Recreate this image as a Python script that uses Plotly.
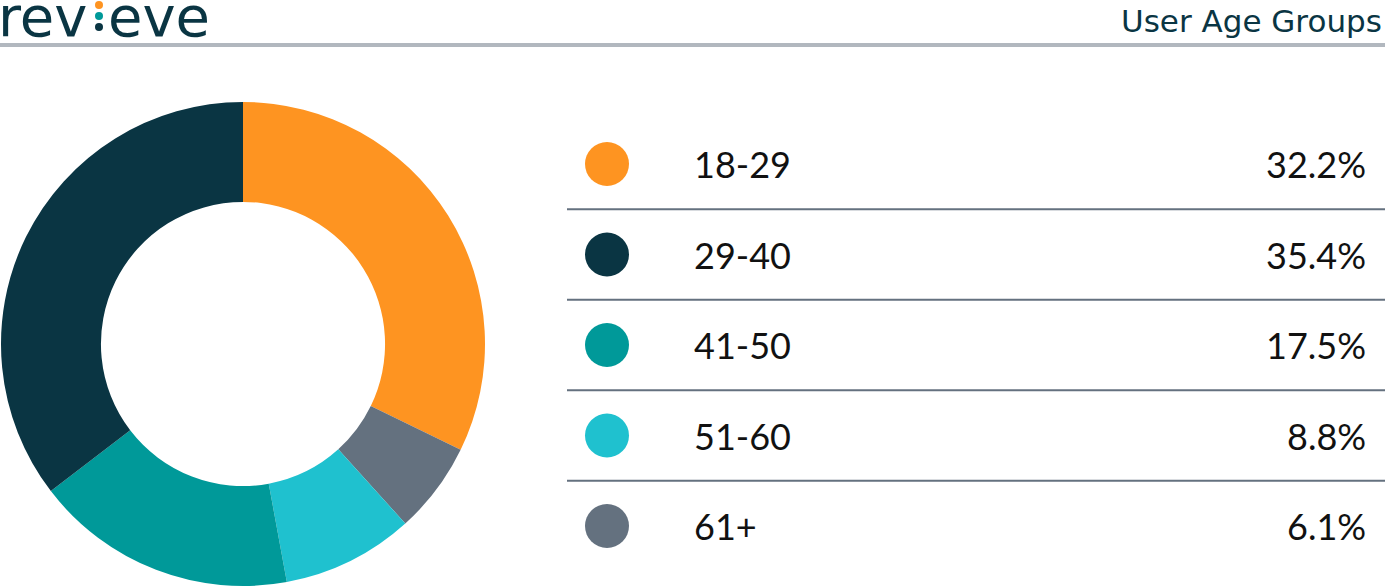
import plotly.graph_objects as go

W, H = 1385, 587

# ---- data ----
categories = ["18-29", "29-40", "41-50", "51-60", "61+"]
shares = [32.2, 35.4, 17.5, 8.8, 6.1]
colors = ["#FE9421", "#0A3543", "#009999", "#1FC1CF", "#64717F"]
pie_order = [0, 4, 3, 2, 1]  # clockwise drawing order from 12 o'clock
title_text = "User Age Groups"
logo_left, logo_right = "rev", "eve"

DARK = "#0A3543"
GRAY = "#64717F"
FONT = "Lato"
LOGO_FONT = "DejaVu Sans"

def px(x):
    return x / W

def py(y):
    return 1 - y / H

fig = go.Figure()

fig.add_trace(go.Pie(
    labels=[categories[i] for i in pie_order],
    values=[shares[i] for i in pie_order],
    marker=dict(colors=[colors[i] for i in pie_order], line=dict(width=0)),
    sort=False,
    direction="clockwise",
    rotation=0,
    hole=0.587,
    textinfo="none",
    hoverinfo="label+percent",
    showlegend=False,
    domain=dict(x=[px(1), px(485)], y=[py(586), py(102)]),
))

shapes = []
annotations = []

# header double rule
for yy in (44, 46):
    shapes.append(dict(type="line", xref="paper", yref="paper",
                       x0=0, x1=1, y0=py(yy), y1=py(yy),
                       line=dict(color=GRAY, width=1)))

# logo
annotations.append(dict(text=logo_left, x=px(-4), y=py(16), xref="paper", yref="paper",
                        xanchor="left", yanchor="middle", showarrow=False,
                        font=dict(family=LOGO_FONT, size=56, color=DARK)))
annotations.append(dict(text=logo_right, x=px(106), y=py(16), xref="paper", yref="paper",
                        xanchor="left", yanchor="middle", showarrow=False,
                        font=dict(family=LOGO_FONT, size=56, color=DARK)))
for cy, col in ((5, "#FE9421"), (16, "#009999"), (27, DARK)):
    shapes.append(dict(type="circle", xref="paper", yref="paper",
                       x0=px(95), x1=px(103), y0=py(cy + 4), y1=py(cy - 4),
                       fillcolor=col, line=dict(width=0)))

# title
annotations.append(dict(text=title_text, x=px(1384), y=py(21), xref="paper", yref="paper",
                        xanchor="right", yanchor="middle", showarrow=False,
                        font=dict(family=LOGO_FONT, size=31, color=DARK)))

# legend table
row_y0, row_step = 164, 90.5
for k, (cat, val, col) in enumerate(zip(categories, shares, colors)):
    cy = row_y0 + k * row_step
    shapes.append(dict(type="circle", xref="paper", yref="paper",
                       x0=px(585), x1=px(629), y0=py(cy + 22), y1=py(cy - 22),
                       fillcolor=col, line=dict(width=0)))
    annotations.append(dict(text=cat, x=px(692), y=py(cy), xref="paper", yref="paper",
                            xanchor="left", yanchor="middle", showarrow=False,
                            font=dict(family=FONT, size=36, color="#111111")))
    annotations.append(dict(text=f"{val:.1f}%", x=px(1368), y=py(cy), xref="paper", yref="paper",
                            xanchor="right", yanchor="middle", showarrow=False,
                            font=dict(family=FONT, size=36, color="#111111")))
    if k < len(categories) - 1:
        ly = cy + row_step / 2
        shapes.append(dict(type="line", xref="paper", yref="paper",
                           x0=px(567), x1=1, y0=py(ly), y1=py(ly),
                           line=dict(color=GRAY, width=2)))

fig.update_layout(
    width=W, height=H,
    margin=dict(l=0, r=0, t=0, b=0),
    paper_bgcolor="white", plot_bgcolor="white",
    shapes=shapes, annotations=annotations,
    showlegend=False,
)

fig.write_html("out.html", config={"displayModeBar": False},
               post_script="document.body.style.margin='0px';document.body.style.overflow='hidden';")
